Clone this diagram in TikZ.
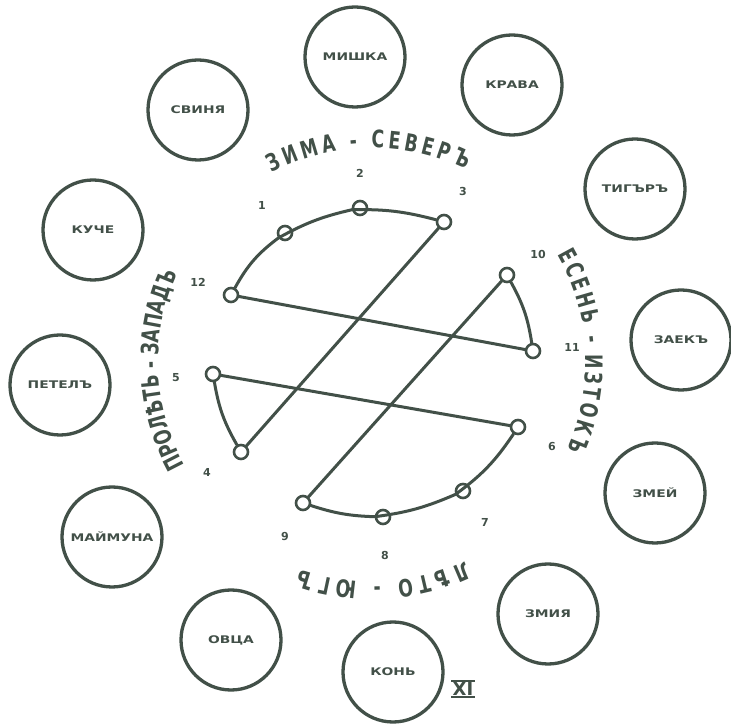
\documentclass[tikz,border=0pt]{standalone}
\usepackage{fontspec}
\setmainfont{DejaVu Sans}
\newfontfamily\seasonfam[FakeStretch=0.72]{DejaVu Sans}
\usepackage{graphicx}
\usetikzlibrary{decorations.text}
\definecolor{ink}{RGB}{66,80,72}
\newcommand\seasonfont{\seasonfam\bfseries\fontsize{24}{24}\selectfont}
\newcommand\wide[1]{\scalebox{1.32}[1]{#1}}
\tikzset{
  animal/.style={circle, draw=ink, line width=3.3pt, minimum size=100pt, inner sep=0pt,
    text=ink, font=\fontsize{10.5}{10.5}\selectfont\bfseries},
  pt/.style={circle, draw=ink, fill=white, line width=2.6pt, minimum size=14pt, inner sep=0pt},
  num/.style={text=ink, font=\fontsize{11}{11}\selectfont\bfseries, inner sep=0pt},
  link/.style={draw=ink, line width=3pt, line cap=round},
  seasontext/.style={decorate, decoration={text along path, text align={fit to path},
    text color=ink, text={#1}}}
}
\begin{document}
\begin{tikzpicture}[x=1pt,y=1pt]
\fill[white] (0,0) rectangle (731,723);
\useasboundingbox (0,0) rectangle (731,723);

% animal circles
\node[animal] (mouse)   at (355,666) {\wide{МИШКА}};
\node[animal] (cow)     at (512,638) {\wide{КРАВА}};
\node[animal] (tiger)   at (635,534) {\wide{ТИГЪРЪ}};
\node[animal] (hare)    at (681,383) {\wide{ЗАЕКЪ}};
\node[animal] (dragon)  at (655,230) {\wide{ЗМЕЙ}};
\node[animal] (snake)   at (548,109) {\wide{ЗМИЯ}};
\node[animal] (horse)   at (393,51)  {\wide{КОНЬ}};
\node[animal] (sheep)   at (231,83)  {\wide{ОВЦА}};
\node[animal] (monkey)  at (112,186) {\wide{МАЙМУНА}};
\node[animal] (rooster) at (60,338)  {\wide{ПЕТЕЛЪ}};
\node[animal] (dog)     at (93,493)  {\wide{КУЧЕ}};
\node[animal] (pig)     at (198,613) {\wide{СВИНЯ}};

% season texts
\path[seasontext={|\seasonfont|ЗИМА - СЕВЕРЪ}]
  (372,361) ++(118:214) arc[start angle=118, end angle=64, radius=214];
\path[seasontext={|\seasonfont|ЕСЕНЬ - ИЗТОКЪ}]
  (372,361) ++(30:214) arc[start angle=30, end angle=-24, radius=214];
\path[seasontext={|\seasonfont|ЛѢТО - ЮГЪ}]
  (372,361) ++(-65:220) arc[start angle=-65, end angle=-109, radius=220];
\path[seasontext={|\seasonfont|ПРОЛѢТЬ - ЗАПАДЪ}]
  (372,361) ++(209:214) arc[start angle=209, end angle=157, radius=214];

% points
\node[pt] (p12) at (231,428) {};
\node[pt] (p1)  at (285,490) {};
\node[pt] (p2)  at (360,515) {};
\node[pt] (p3)  at (444,501) {};
\node[pt] (p10) at (507,448) {};
\node[pt] (p11) at (533,372) {};
\node[pt] (p5)  at (213,349) {};
\node[pt] (p4)  at (241,271) {};
\node[pt] (p9)  at (303,220) {};
\node[pt] (p8)  at (383,206) {};
\node[pt] (p7)  at (463,232) {};
\node[pt] (p6)  at (518,296) {};

% point numbers
\node[num] (n2)  at (360,550) {2};
\node[num] (n1)  at (262,518) {1};
\node[num] (n3)  at (463,531) {3};
\node[num] (n12) at (198,441) {12};
\node[num] (n10) at (538,468) {10};
\node[num] (n11) at (572,376) {11};
\node[num] (n5)  at (176,345) {5};
\node[num] (n4)  at (207,251) {4};
\node[num] (n9)  at (285,186) {9};
\node[num] (n8)  at (385,168) {8};
\node[num] (n7)  at (485,201) {7};
\node[num] (n6)  at (552,276) {6};

% connectors
\draw[link] (p12) to[bend left=12] (p1) to[bend left=8] (p2) to[bend left=8] (p3);
\draw[link] (p3) -- (p4);
\draw[link] (p12) -- (p11);
\draw[link] (p10) to[bend left=10] (p11);
\draw[link] (p10) -- (p9);
\draw[link] (p5) -- (p6);
\draw[link] (p5) to[bend right=10] (p4);
\draw[link] (p9) to[bend right=8] (p8) to[bend right=8] (p7) to[bend right=10] (p6);

% roman numeral
\node[text=ink, font=\fontsize{18}{18}\selectfont\bfseries, inner sep=1.5pt] (roman) at (463,34) {XI};
\draw[ink, line width=2.4pt] (roman.north west) -- (roman.north east);
\draw[ink, line width=2.4pt] (roman.south west) -- (roman.south east);
\end{tikzpicture}
\end{document}
